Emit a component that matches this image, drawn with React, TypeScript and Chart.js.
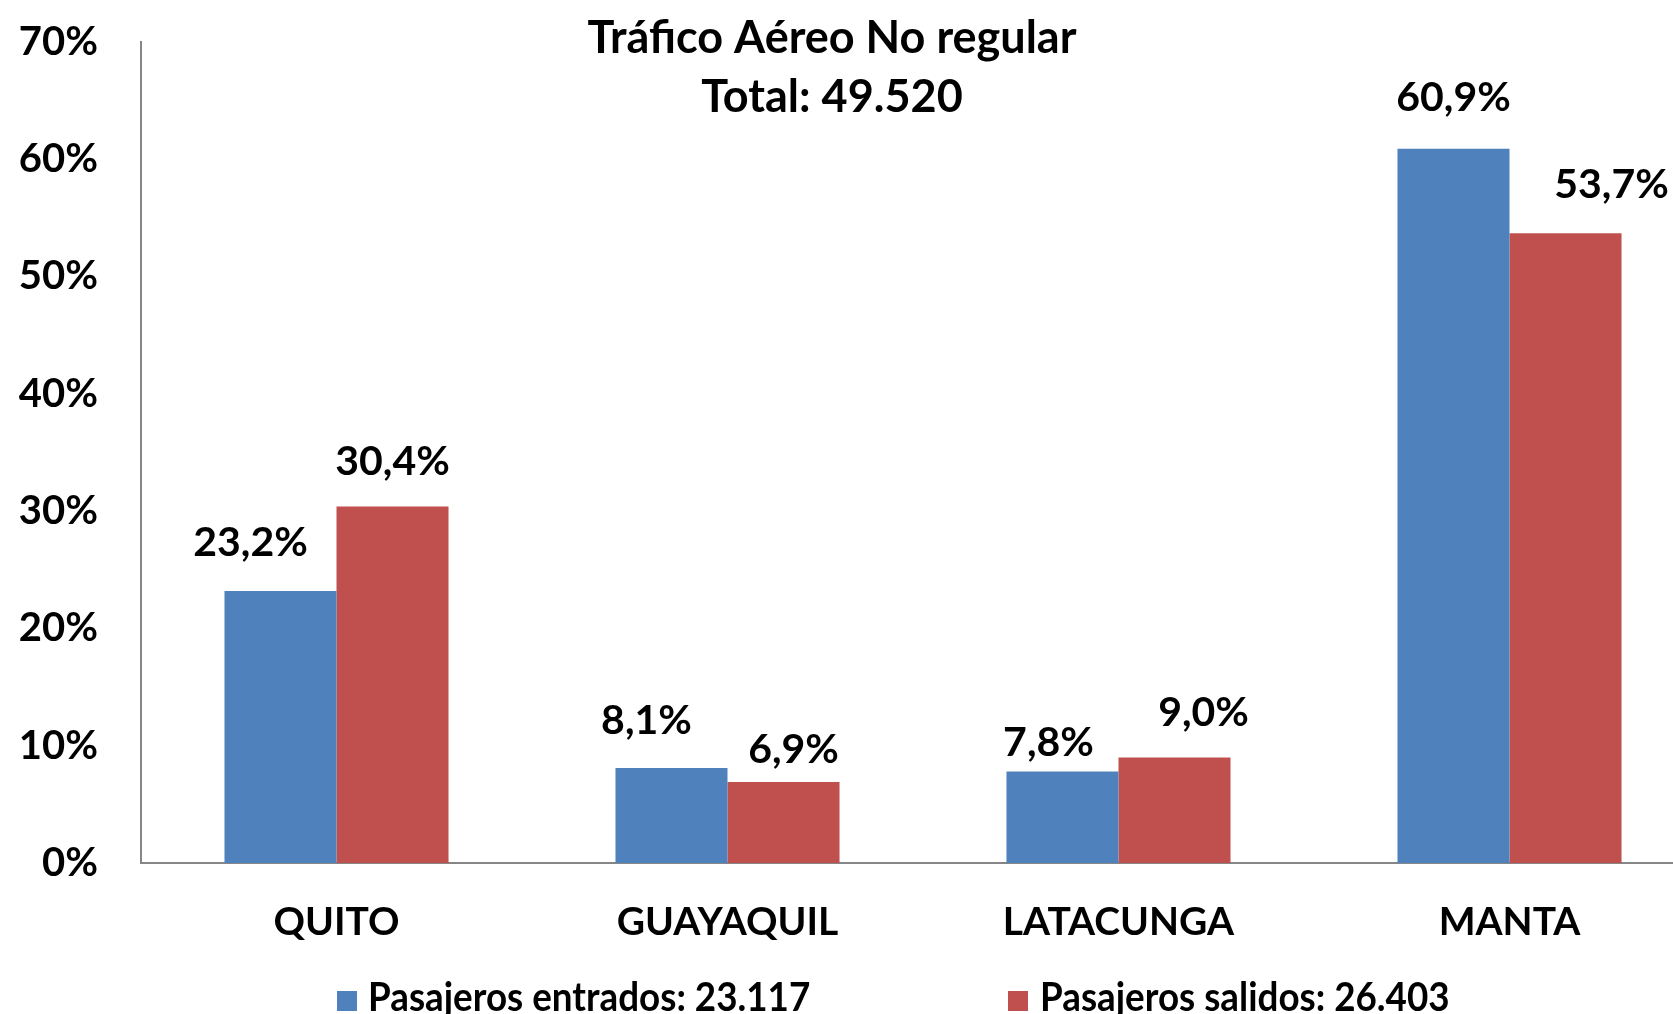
import React, { useEffect, useRef } from "react";
import { Chart, registerables } from "chart.js";

Chart.register(...registerables);

const categories = ["QUITO", "GUAYAQUIL", "LATACUNGA", "MANTA"];
const entrados = [23.2, 8.1, 7.8, 60.9];
const salidos = [30.4, 6.9, 9.0, 53.7];
const seriesLabels = ["Pasajeros entrados: 23.117", "Pasajeros salidos: 26.403"];
const titleLines = ["Tráfico Aéreo No regular", "Total: 49.520"];
const yMin = 0;
const yMax = 70;
const yStep = 10;

// label placement tweaks (px): horizontal shift and gap above bar top
const labelDx = [
  [-30, -25, -14, 0],
  [0, 10, 29, 46],
];
const labelGap = [
  [48, 47, 29, 51],
  [45, 32, 45, 48],
];

const FONT = "Lato, 'Open Sans', sans-serif";
const BLUE = "#4F81BD";
const RED = "#C0504D";
const AXIS = "#868686";

const fmt = (v: number) => v.toFixed(1).replace(".", ",") + "%";

export default function App() {
  const ref = useRef<HTMLCanvasElement | null>(null);

  useEffect(() => {
    if (!ref.current) return;
    const extras = {
      id: "extras",
      afterDatasetsDraw(chart: any) {
        const ctx = chart.ctx;
        ctx.save();
        ctx.fillStyle = "#000";
        ctx.font = `bold 41px ${FONT}`;
        ctx.textAlign = "center";
        ctx.textBaseline = "middle";
        chart.data.datasets.forEach((ds: any, di: number) => {
          const meta = chart.getDatasetMeta(di);
          meta.data.forEach((bar: any, i: number) => {
            ctx.fillText(fmt(ds.data[i]), bar.x + labelDx[di][i], bar.y - labelGap[di][i]);
          });
        });
        ctx.restore();
      },
      afterDraw(chart: any) {
        const ctx = chart.ctx;
        ctx.save();
        ctx.fillStyle = "#000";
        ctx.textAlign = "center";
        ctx.textBaseline = "middle";
        ctx.font = `bold 45px ${FONT}`;
        ctx.fillText(titleLines[0], 832, 38);
        ctx.fillText(titleLines[1], 832, 97);
        // legend
        const items = [
          { box: 337, text: 368 },
          { box: 1008, text: 1040 },
        ];
        chart.data.datasets.forEach((ds: any, di: number) => {
          const it = items[di];
          ctx.fillStyle = ds.backgroundColor;
          ctx.fillRect(it.box, 991, 20, 20);
          ctx.save();
          ctx.translate(it.text, 1011);
          ctx.scale(0.92, 1);
          ctx.fillStyle = "#000";
          ctx.textAlign = "left";
          ctx.textBaseline = "alphabetic";
          ctx.font = `bold 40px ${FONT}`;
          ctx.fillText(ds.label, 0, 0);
          ctx.restore();
        });
        ctx.restore();
      },
    };

    const chart = new Chart(ref.current, {
      type: "bar",
      data: {
        labels: categories,
        datasets: [
          { label: seriesLabels[0], data: entrados, backgroundColor: BLUE },
          { label: seriesLabels[1], data: salidos, backgroundColor: RED },
        ],
      },
      options: {
        responsive: false,
        animation: false,
        layout: { autoPadding: false, padding: { left: 0, right: 15, top: 42, bottom: 71 } },
        plugins: {
          legend: { display: false },
          title: { display: false },
          tooltip: { enabled: false },
        },
        datasets: {
          bar: { categoryPercentage: 0.573, barPercentage: 1.0 },
        },
        scales: {
          x: {
            grid: { display: false, drawTicks: false },
            border: { display: true, color: AXIS, width: 2 },
            ticks: {
              color: "#000",
              font: { family: FONT, size: 39, weight: "bold" },
              padding: 36,
              maxRotation: 0,
            },
            afterFit: (s: any) => {
              s.height = 80;
              s.paddingLeft = 0;
              s.paddingRight = 0;
            },
          },
          y: {
            min: yMin,
            max: yMax,
            grid: { display: false, drawTicks: false },
            border: { display: true, color: AXIS, width: 2 },
            ticks: {
              stepSize: yStep,
              color: "#000",
              font: { family: FONT, size: 40, weight: "bold" },
              padding: 43,
              callback: (v: any) => v + "%",
            },
            afterFit: (s: any) => {
              s.width = 141;
              s.paddingTop = 0;
              s.paddingBottom = 0;
            },
          },
        },
      },
      plugins: [extras],
    } as any);
    return () => chart.destroy();
  }, []);

  return (
    <div
      style={{
        position: "fixed",
        left: 0,
        top: 0,
        width: 1673,
        height: 1014,
        overflow: "hidden",
        background: "#fff",
      }}
    >
      <canvas ref={ref} width={1720} height={1014} style={{ width: 1720, height: 1014, display: "block" }} />
    </div>
  );
}
